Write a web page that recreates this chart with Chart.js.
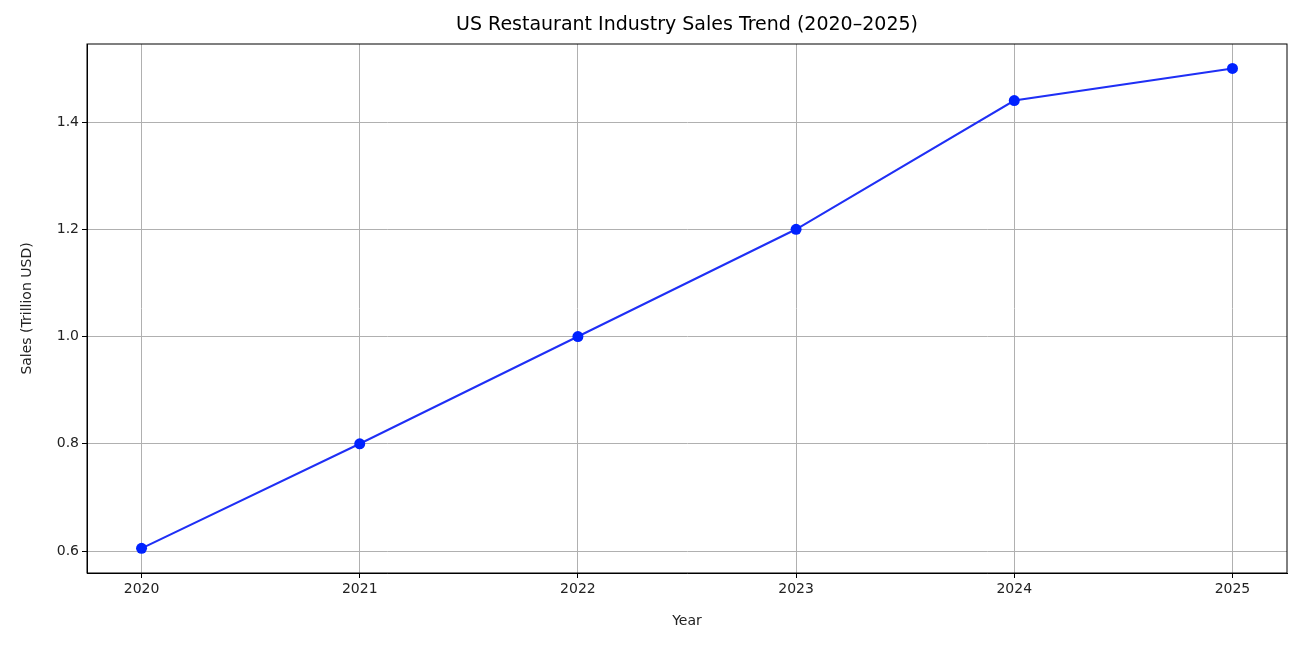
<!DOCTYPE html>
<html>
<head>
<meta charset="utf-8">
<script src="https://cdn.jsdelivr.net/npm/chart.js@4"></script>
<style>
  html, body { margin: 0; padding: 0; background: #fff; }
  #wrap { width: 1306px; height: 646px; }
</style>
</head>
<body>
<div id="wrap"><canvas id="myChart"></canvas></div>
<script>
const years = [2020, 2021, 2022, 2023, 2024, 2025]
const sales = [0.605, 0.8, 1.0, 1.2, 1.44, 1.5]
const yTicks = [0.6, 0.8, 1.0, 1.2, 1.4]
const chartTitle = 'US Restaurant Industry Sales Trend (2020\u20132025)'

const font = { family: 'DejaVu Sans', size: 14 }

// title + full frame like matplotlib
const framePlugin = {
  id: 'frame',
  afterDraw(chart) {
    const { ctx, chartArea: a } = chart
    ctx.save()
    ctx.strokeStyle = '#000'
    ctx.lineWidth = 1
    ctx.strokeRect(a.left, a.top, a.right - a.left, a.bottom - a.top)
    ctx.fillStyle = '#000'
    ctx.font = '19px "DejaVu Sans"'
    ctx.textAlign = 'center'
    ctx.textBaseline = 'middle'
    ctx.fillText(chartTitle, (a.left + a.right) / 2, 25)
    ctx.restore()
  }
}

new Chart(document.getElementById('myChart'), {
  type: 'line',
  data: {
    datasets: [{
      data: years.map((y, i) => ({ x: y, y: sales[i] })),
      borderColor: '#1f2ff5',
      backgroundColor: '#0022ff',
      borderWidth: 2,
      pointRadius: 5.5,
      pointBorderWidth: 0,
      pointBackgroundColor: '#0022ff',
      lineTension: 0
    }]
  },
  options: {
    responsive: true,
    maintainAspectRatio: false,
    animation: false,
    layout: { padding: { top: 44, right: 19, left: 0, bottom: 0 } },
    plugins: { legend: { display: false }, tooltip: { enabled: false } },
    scales: {
      x: {
        type: 'linear',
        min: 2019.75,
        max: 2025.25,
        afterBuildTicks: s => { s.ticks = years.map(v => ({ value: v })) },
        afterFit: s => { s.height = 73 },
        ticks: { color: '#222', font, callback: v => String(v), maxRotation: 0 },
        grid: { color: '#b0b0b0', tickColor: '#000', tickLength: 5 },
        border: { color: '#000' },
        title: { display: true, text: 'Year', color: '#222', font, padding: { top: 4, bottom: 16 } }
      },
      y: {
        min: 0.5590,
        max: 1.5455,
        afterBuildTicks: s => { s.ticks = yTicks.map(v => ({ value: v })) },
        afterFit: s => { s.width = 87 },
        ticks: { color: '#222', font, callback: v => v.toFixed(1) },
        grid: { color: '#b0b0b0', tickColor: '#000', tickLength: 5 },
        border: { color: '#000' },
        title: { display: true, text: 'Sales (Trillion USD)', color: '#222', font, padding: { top: 19, bottom: 4 } }
      }
    }
  },
  plugins: [framePlugin]
})
</script>
</body>
</html>
